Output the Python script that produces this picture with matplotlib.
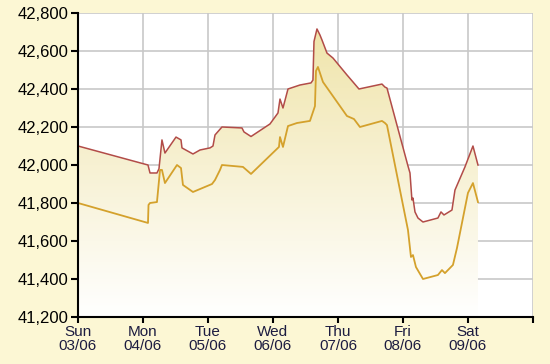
import matplotlib
matplotlib.use('Agg')
from matplotlib import pyplot as plt
from matplotlib.colors import LinearSegmentedColormap
import numpy as np

# day offsets from Sun 03/06 00:00 and prices
high_x = [0, 1.077, 1.108, 1.215, 1.246, 1.292, 1.338, 1.508, 1.585, 1.6, 1.769,
          1.877, 2.031, 2.077, 2.108, 2.215, 2.523, 2.554, 2.662, 2.954, 3.077,
          3.108, 3.154, 3.231, 3.415, 3.585, 3.615, 3.631, 3.677, 3.723, 3.754,
          3.831, 3.923, 4.138, 4.231, 4.323, 4.677, 4.723, 4.754, 5.077, 5.108,
          5.138, 5.154, 5.185, 5.231, 5.308, 5.538, 5.585, 5.631, 5.754, 5.8,
          5.954, 6.077, 6.154]
high_y = [42100, 42000, 41958, 41958, 41980, 42132, 42063, 42147, 42132, 42090, 42058,
          42079, 42090, 42100, 42158, 42200, 42195, 42174, 42150, 42216, 42274,
          42347, 42300, 42400, 42421, 42432, 42447, 42650, 42716, 42684, 42658,
          42589, 42563, 42474, 42437, 42400, 42426, 42410, 42405, 41995, 41958,
          41816, 41826, 41753, 41721, 41700, 41721, 41753, 41737, 41763, 41868,
          41990, 42100, 42000]

low_x = [0, 1.077, 1.085, 1.108, 1.215, 1.262, 1.292, 1.338, 1.523, 1.585, 1.615,
         1.769, 2.062, 2.108, 2.185, 2.215, 2.538, 2.662, 3.092, 3.108, 3.154,
         3.231, 3.369, 3.569, 3.646, 3.662, 3.692, 3.769, 4.138, 4.246, 4.338,
         4.677, 4.723, 4.754, 4.923, 5.077, 5.123, 5.154, 5.2, 5.308, 5.538,
         5.6, 5.646, 5.769, 5.831, 6.0, 6.077, 6.154]
low_y = [41800, 41695, 41790, 41800, 41805, 41974, 41974, 41905, 42000, 41984, 41895,
         41858, 41900, 41921, 41974, 42000, 41990, 41953, 42095, 42147, 42095,
         42205, 42221, 42232, 42310, 42495, 42516, 42437, 42258, 42242, 42200,
         42232, 42221, 42210, 41921, 41658, 41516, 41526, 41463, 41400, 41421,
         41447, 41431, 41474, 41563, 41853, 41905, 41805]

day_labels = ['Sun\n03/06', 'Mon\n04/06', 'Tue\n05/06', 'Wed\n06/06',
              'Thu\n07/06', 'Fri\n08/06', 'Sat\n09/06', '']

plt.rcParams['font.family'] = ['Liberation Sans', 'DejaVu Sans']

fig = plt.figure(figsize=(5.5, 3.64), dpi=100, facecolor='#fcf7d4')
ax = fig.add_axes([0.1418, 0.1291, 0.8272, 0.8352])
ax.set_facecolor('white')

ymin, ymax = 41200, 42800
ax.set_xlim(0, 7)
ax.set_ylim(ymin, ymax)

# gradient fill under the upper line
poly = ax.fill_between(high_x, high_y, ymin, color='none', lw=0)
cmap = LinearSegmentedColormap.from_list('fade', ['#ffffff', '#efe3a6'])
grad = np.linspace(0, 1, 256).reshape(-1, 1)
img = ax.imshow(grad, cmap=cmap, origin='lower', aspect='auto',
                extent=[0, 7, ymin, ymax], zorder=1)
img.set_clip_path(poly.get_paths()[0], transform=ax.transData)

ax.plot(high_x, high_y, color='#b24c48', lw=1.1, zorder=3)
ax.plot(low_x, low_y, color='#d4a12c', lw=1.3, zorder=3)

ax.set_yticks(np.arange(41200, 42801, 200))
ax.set_yticklabels([f'{v:,}' for v in range(41200, 42801, 200)])
ax.set_xticks(range(8))
ax.set_xticklabels(day_labels)

ax.grid(True, color='#c8c8c8', lw=1.2, zorder=2)
ax.set_axisbelow(True)
for s in ['top', 'right']:
    ax.spines[s].set_visible(False)
for s in ['left', 'bottom']:
    ax.spines[s].set_color('black')
    ax.spines[s].set_linewidth(1.5)
    ax.spines[s].set_zorder(4)

ax.tick_params(axis='y', length=5, width=1.5, labelsize=12, pad=2, colors='black')
ax.tick_params(axis='x', length=4, width=1.5, labelsize=11, pad=2,
               colors='black', labelcolor='#1c1c40')
for t in ax.get_xticklabels():
    t.set_linespacing(0.95)

fig.savefig('out.png', dpi=100, facecolor=fig.get_facecolor())
